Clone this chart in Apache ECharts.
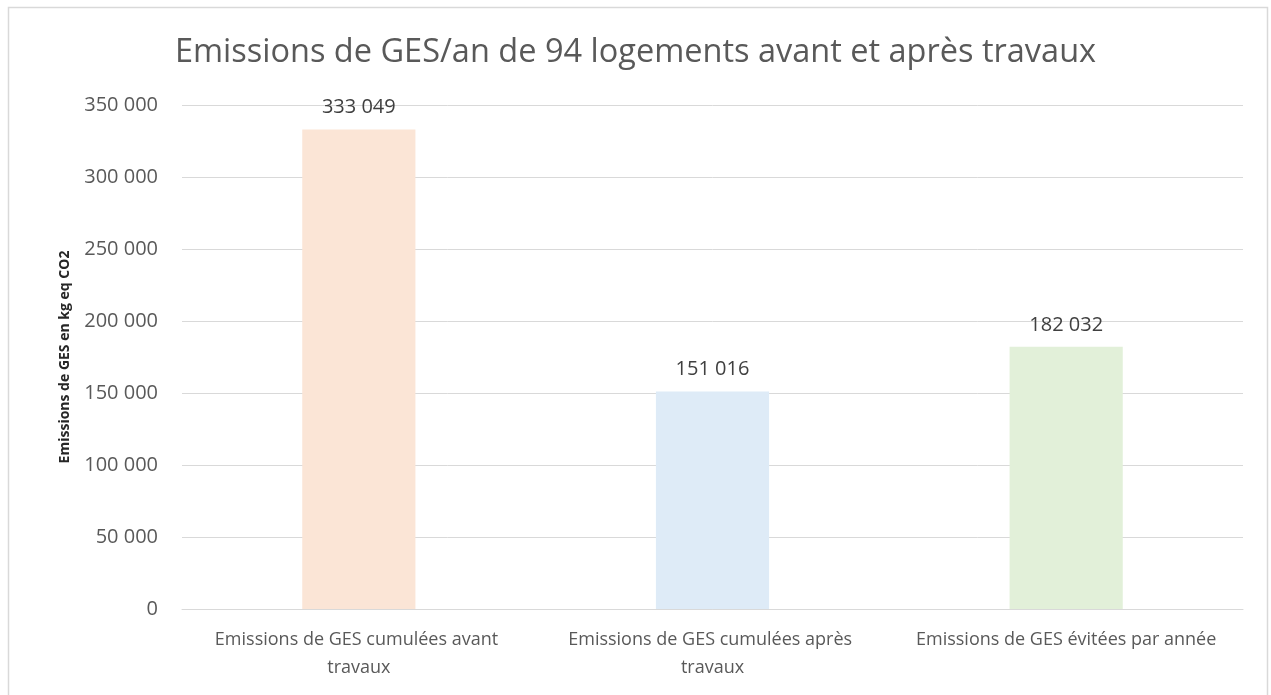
<!DOCTYPE html>
<html><head><meta charset="utf-8">
<script src="https://cdn.jsdelivr.net/npm/echarts@6/dist/echarts.min.js"></script>
<style>html,body{margin:0;padding:0;background:#fff}#c{width:1271px;height:695px}</style>
</head><body><div id="c"></div>
<script>
const categories = ["Emissions de GES cumulées avant travaux", "Emissions de GES cumulées après travaux", "Emissions de GES évitées par année"];
const values = [333049, 151016, 182032];
const barColors = ["#FBE5D6", "#DEEBF7", "#E2F0D9"];
const titleText = "Emissions de GES/an de 94 logements avant et après travaux";
const yName = "Emissions de GES en kg eq CO2";

function fmt(v){ return String(Math.round(v)).replace(/\B(?=(\d{3})+(?!\d))/g, " "); }

const chart = echarts.init(document.getElementById('c'), null, {renderer:'canvas'});
chart.setOption({
  animation:false,
  backgroundColor:'#fff',
  textStyle:{fontFamily:'Open Sans'},
  graphic:[{type:'rect', shape:{x:8.5,y:7.5,width:1259,height:700}, style:{fill:'none', stroke:'#D9D9D9', lineWidth:1.5}, z:-1}],
  title:{text:titleText, left:'center', top:31, textStyle:{fontFamily:'Open Sans', fontSize:32.5, fontWeight:'normal', color:'#595959'}},
  grid:{left:182, right:28, top:105, bottom:86, containLabel:false},
  xAxis:{type:'category', data:categories,
    axisLine:{lineStyle:{color:'#D9D9D9', width:1}}, axisTick:{show:false},
    axisLabel:{interval:0, color:'#595959', fontSize:18, margin:17, width:330, overflow:'break', lineHeight:28}},
  yAxis:{type:'value', min:0, max:350000, interval:50000,
    name:yName, nameLocation:'middle', nameRotate:90, nameGap:110,
    nameTextStyle:{fontSize:14, fontWeight:'bold', color:'#262626'},
    axisLine:{show:false}, axisTick:{show:false},
    splitLine:{lineStyle:{color:'#D9D9D9', width:1}},
    axisLabel:{color:'#595959', fontSize:20, margin:24, formatter:fmt}},
  series:[{type:'bar', barWidth:'32%',
    data: values.map((v,i)=>({value:v, itemStyle:{color:barColors[i]}})),
    label:{show:true, position:'top', distance:12, color:'#404040', fontSize:20, formatter:p=>fmt(p.value)}}]
});
</script></body></html>
